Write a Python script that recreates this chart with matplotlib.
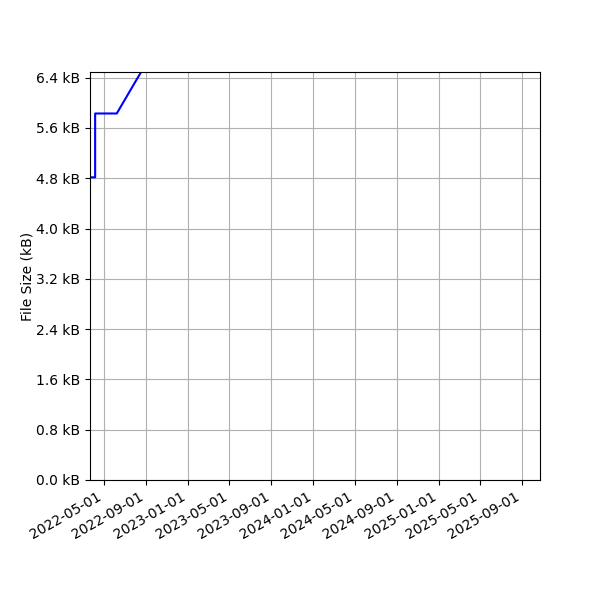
import matplotlib
matplotlib.use("Agg")
import matplotlib.pyplot as plt
import matplotlib.dates as mdates
from matplotlib.ticker import MultipleLocator, FuncFormatter
import numpy as np

# file size history (bytes)
dates = np.array(["2022-03-01", "2022-04-05", "2022-04-05", "2022-06-07", "2022-09-30"],
                 dtype="datetime64[D]")
sizes = [4815, 4815, 5830, 5830, 6900]

fig, ax = plt.subplots(figsize=(6, 6), dpi=100)
ax.plot(dates, sizes, color="blue")

ax.set_xlim(np.datetime64("2022-03-21"), np.datetime64("2025-10-23"))
ax.set_ylim(0, 6490)
ax.yaxis.set_major_locator(MultipleLocator(800))
ax.yaxis.set_major_formatter(FuncFormatter(lambda v, p: f"{v / 1000:.1f} kB"))
ax.xaxis.set_major_locator(mdates.MonthLocator(bymonth=[1, 5, 9]))
ax.xaxis.set_major_formatter(mdates.DateFormatter("%Y-%m-%d"))
ax.set_ylabel("File Size (kB)", labelpad=1)
ax.grid(True)

fig.autofmt_xdate()
fig.subplots_adjust(left=0.15)
fig.savefig("out.png")
